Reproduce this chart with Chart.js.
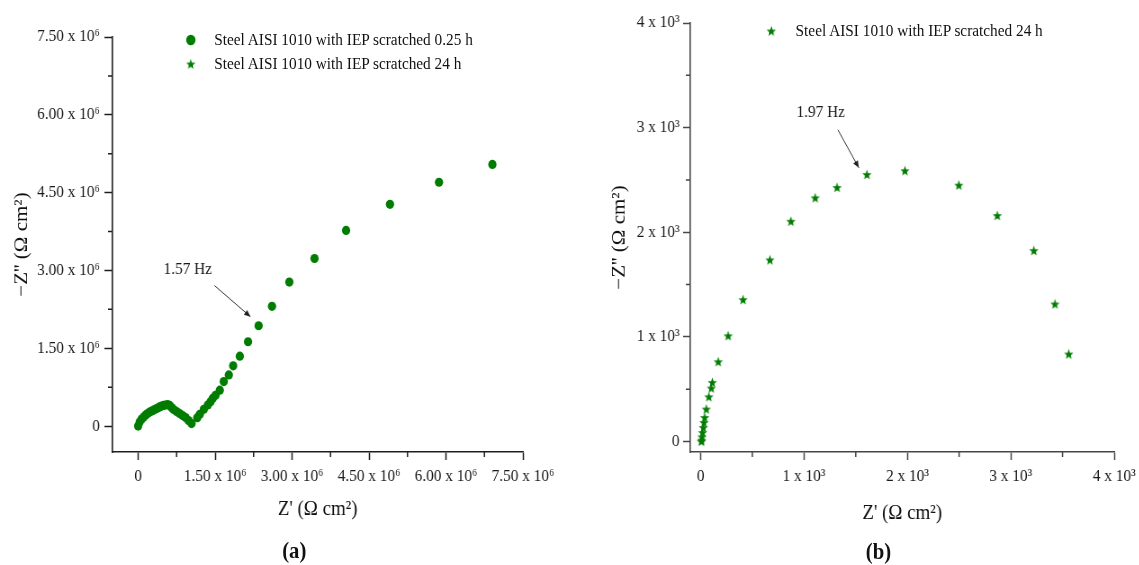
<!DOCTYPE html>
<html><head><meta charset="utf-8">
<script src="https://cdn.jsdelivr.net/npm/chart.js@4.4.1/dist/chart.umd.min.js"></script>
<style>
html,body{margin:0;padding:0;background:#fff;overflow:hidden;width:1139px;height:565px;}
#stage{position:absolute;left:0;top:0;width:1266px;height:565px;transform:scaleX(0.9);transform-origin:0 0;font-family:'Liberation Serif','Times New Roman',serif;color:#111;}
#stage canvas.chart{position:absolute;top:0;}
.leg{position:absolute;font-size:17px;line-height:20px;white-space:nowrap;transform:translateY(-50%);color:#111;}
.mk{position:absolute;transform:translate(-50%,-50%);}
.panel{position:absolute;font-weight:bold;font-size:23px;line-height:26px;transform:translate(-50%,-50%);color:#111;}
</style></head><body>
<div id="stage">
<canvas class="chart" id="cA" width="633" height="565" style="left:0"></canvas>
<canvas class="chart" id="cB" width="633" height="565" style="left:633px"></canvas>
</div>
<script>
// ---------- DATA ----------
const seriesA_label = 'Steel AISI 1010 with IEP scratched 0.25 h';
const seriesA_x = [0, 0.029e6, 0.068e6, 0.107e6, 0.146e6, 0.185e6, 0.224e6, 0.263e6, 0.302e6, 0.340e6,
  0.379e6, 0.418e6, 0.457e6, 0.496e6, 0.535e6, 0.574e6, 0.613e6, 0.652e6, 0.691e6, 0.749e6,
  0.807e6, 0.866e6, 0.924e6, 0.982e6, 1.041e6, 1.152e6, 1.202e6, 1.280e6, 1.358e6, 1.411e6,
  1.455e6, 1.508e6, 1.591e6, 1.669e6, 1.767e6, 1.852e6, 1.981e6, 2.142e6, 2.348e6, 2.609e6,
  2.947e6, 3.438e6, 4.053e6, 4.909e6, 5.864e6, 6.905e6];
const seriesA_y = [0, 0.077e6, 0.135e6, 0.174e6, 0.213e6, 0.242e6, 0.271e6, 0.290e6, 0.309e6, 0.329e6,
  0.348e6, 0.368e6, 0.387e6, 0.397e6, 0.406e6, 0.416e6, 0.397e6, 0.358e6, 0.319e6, 0.280e6,
  0.242e6, 0.203e6, 0.164e6, 0.106e6, 0.048e6, 0.161e6, 0.226e6, 0.323e6, 0.406e6, 0.470e6,
  0.536e6, 0.594e6, 0.691e6, 0.857e6, 0.986e6, 1.161e6, 1.348e6, 1.625e6, 1.934e6, 2.308e6,
  2.776e6, 3.230e6, 3.772e6, 4.275e6, 4.700e6, 5.043e6];

const seriesB_label = 'Steel AISI 1010 with IEP scratched 24 h';
const seriesB_x = [7, 10, 13, 19, 26, 32, 39, 55, 80, 103, 113, 170, 266, 410, 670, 873, 1108, 1319, 1608, 1976, 2497, 2869, 3223, 3427, 3560];
const seriesB_y = [2, 13, 45, 86, 134, 182, 230, 310, 428, 511, 565, 763, 1011, 1356, 1736, 2105, 2329, 2428, 2552, 2588, 2450, 2160, 1825, 1315, 836];

const ticksA = [0, 1.5e6, 3e6, 4.5e6, 6e6, 7.5e6];
const tickLabelsA = ['0', '1.50 x 10\u2076', '3.00 x 10\u2076', '4.50 x 10\u2076', '6.00 x 10\u2076', '7.50 x 10\u2076'];
const minorTicksA = [0.75e6, 2.25e6, 3.75e6, 5.25e6, 6.75e6];
const ticksB = [0, 1000, 2000, 3000, 4000];
const tickLabelsB = ['0', '1 x 10\u00b3', '2 x 10\u00b3', '3 x 10\u00b3', '4 x 10\u00b3'];
const minorTicksB = [500, 1500, 2500, 3500];

const xTitle = "Z' (\u03a9 cm\u00b2)";
const yTitle = "\u2212Z'' (\u03a9 cm\u00b2)";

const annotA = {text: '1.57 Hz', x: 0.496e6, y: 3.017e6, from: [1.488e6, 2.708e6], to: [2.189e6, 2.108e6]};
const annotB = {text: '1.97 Hz', x: 928, y: 3145, from: [1327, 2980], to: [1530, 2616]};

// ---------- STYLE ----------
const GREEN = '#007d00';
const FONT = "'Liberation Serif', 'Times New Roman', serif";

function makeStar(color, R, r) {
  const size = Math.ceil(R * 2) + 2;
  const c = document.createElement('canvas');
  c.width = size; c.height = size;
  const ctx = c.getContext('2d');
  ctx.fillStyle = color;
  ctx.beginPath();
  for (let i = 0; i < 10; i++) {
    const rad = i % 2 === 0 ? R : r;
    const a = -Math.PI / 2 + i * Math.PI / 5;
    const px = size / 2 + rad * Math.cos(a), py = size / 2 + rad * Math.sin(a) + 0.5;
    if (i) ctx.lineTo(px, py); else ctx.moveTo(px, py);
  }
  ctx.closePath(); ctx.fill();
  return c;
}
const starImg = makeStar(GREEN, 5.4, 2.3);

const extras = {
  id: 'extras',
  afterDraw(chart, args, opts) {
    const ctx = chart.ctx, xs = chart.scales.x, ys = chart.scales.y;
    ctx.save();
    ctx.strokeStyle = opts.axisColor; ctx.lineWidth = 1.5;
    ctx.beginPath();
    opts.minor.forEach(v => {
      if (v >= xs.min && v <= xs.max) { const px = xs.getPixelForValue(v); ctx.moveTo(px, xs.top); ctx.lineTo(px, xs.top + 5); }
      if (v >= ys.min && v <= ys.max) { const py = ys.getPixelForValue(v); ctx.moveTo(ys.right, py); ctx.lineTo(ys.right - 5, py); }
    });
    ctx.stroke();
    const a = opts.annot;
    ctx.fillStyle = '#1a1a1a';
    ctx.font = '17px ' + FONT;
    ctx.textBaseline = 'middle'; ctx.textAlign = 'left';
    ctx.fillText(a.text, xs.getPixelForValue(a.x), ys.getPixelForValue(a.y));
    const x1 = xs.getPixelForValue(a.from[0]), y1 = ys.getPixelForValue(a.from[1]);
    const x2 = xs.getPixelForValue(a.to[0]), y2 = ys.getPixelForValue(a.to[1]);
    ctx.strokeStyle = '#333'; ctx.lineWidth = 1;
    ctx.beginPath(); ctx.moveTo(x1, y1); ctx.lineTo(x2, y2); ctx.stroke();
    const ang = Math.atan2(y2 - y1, x2 - x1), L = 7, W = 3;
    ctx.fillStyle = '#222';
    ctx.beginPath();
    ctx.moveTo(x2, y2);
    ctx.lineTo(x2 - L * Math.cos(ang) + W * Math.sin(ang), y2 - L * Math.sin(ang) - W * Math.cos(ang));
    ctx.lineTo(x2 - L * Math.cos(ang) - W * Math.sin(ang), y2 - L * Math.sin(ang) + W * Math.cos(ang));
    ctx.closePath(); ctx.fill();
    ctx.restore();
  }
};

function makeChart(canvas, cfg) {
  const axisCommon = (ticks, labels) => ({
    type: 'linear',
    afterBuildTicks: s => { s.ticks = ticks.map(v => ({value: v})); },
    border: {display: true, color: cfg.axisColor, width: 1.6},
    grid: {display: true, drawOnChartArea: false, drawTicks: true, tickLength: 8, tickColor: cfg.axisColor, tickWidth: 1.5},
    ticks: {autoSkip: false, maxRotation: 0, minRotation: 0, color: '#1a1a1a', font: {family: FONT, size: 17},
      callback: (v) => { const i = ticks.indexOf(v); return i >= 0 ? labels[i] : ''; }}
  });
  const xAxis = axisCommon(cfg.ticks, cfg.labels);
  Object.assign(xAxis, {
    min: cfg.xmin, max: cfg.xmax,
    afterFit: s => { s.height = 113; s.paddingLeft = 0; s.paddingRight = 0; },
    title: {display: true, text: xTitle, color: '#111', font: {family: FONT, size: 21}, padding: {top: 0, bottom: cfg.xTitlePad}}
  });
  xAxis.ticks.padding = 6;
  const yAxis = axisCommon(cfg.ticks, cfg.labels);
  Object.assign(yAxis, {
    min: cfg.ymin, max: cfg.ymax,
    afterFit: s => { s.width = cfg.yWidth; s.paddingTop = 0; s.paddingBottom = 0; },
    title: {display: true, text: yTitle, color: '#111', font: {family: FONT, size: 21}, padding: {top: cfg.yTitlePad, bottom: 0}}
  });
  yAxis.ticks.padding = cfg.yTickPad;
  yAxis.grid.tickLength = cfg.yTickLen;
  return new Chart(canvas, {
    type: 'scatter',
    data: {datasets: cfg.datasets},
    options: {
      responsive: false, animation: false, events: [],
      layout: {padding: cfg.padding},
      plugins: {legend: {display: false}, tooltip: {enabled: false},
        extras: {axisColor: cfg.axisColor, minor: cfg.minor, annot: cfg.annot}},
      scales: {x: xAxis, y: yAxis}
    },
    plugins: [extras]
  });
}

makeChart(document.getElementById('cA'), {
  datasets: [{label: seriesA_label, data: seriesA_x.map((x, i) => ({x, y: seriesA_y[i]})),
    pointStyle: 'circle', pointRadius: 4.6, backgroundColor: GREEN, borderColor: GREEN, borderWidth: 0, showLine: false}],
  ticks: ticksA, labels: tickLabelsA, minor: minorTicksA, annot: annotA,
  xmin: -0.5e6, xmax: 7.5e6, ymin: -0.5e6, ymax: 7.5e6,
  padding: {top: 37, right: 52, left: 0, bottom: 0},
  yWidth: 125, yTickLen: 9, yTickPad: 5, yTitlePad: 12, xTitlePad: 43,
  axisColor: '#1e1e1e'
});

makeChart(document.getElementById('cB'), {
  datasets: [{label: seriesB_label, data: seriesB_x.map((x, i) => ({x, y: seriesB_y[i]})),
    pointStyle: starImg, pointRadius: 5, backgroundColor: GREEN, borderColor: GREEN, showLine: false}],
  ticks: ticksB, labels: tickLabelsB, minor: minorTicksB, annot: annotB,
  xmin: -100, xmax: 4000, ymin: -100, ymax: 4000,
  padding: {top: 23, right: 28, left: 0, bottom: 0},
  yWidth: 134, yTickLen: 8, yTickPad: 4, yTitlePad: 43, xTitlePad: 39,
  axisColor: '#464646'
});

// ---------- LEGENDS (HTML) ----------
const stage = document.getElementById('stage');
function circleMarker() {
  const c = document.createElement('canvas'); c.width = 14; c.height = 14;
  const ctx = c.getContext('2d'); ctx.fillStyle = GREEN;
  ctx.beginPath(); ctx.arc(7, 7, 5.2, 0, Math.PI * 2); ctx.fill();
  return c;
}
function starMarker() {
  const c = document.createElement('canvas'); c.width = starImg.width; c.height = starImg.height;
  c.getContext('2d').drawImage(starImg, 0, 0);
  return c;
}
function addLegend(marker, text, mx, tx, y) {
  marker.className = 'mk'; marker.style.left = mx + 'px'; marker.style.top = y + 'px';
  stage.appendChild(marker);
  const d = document.createElement('div'); d.className = 'leg'; d.textContent = text;
  d.style.left = tx + 'px'; d.style.top = y + 'px';
  stage.appendChild(d);
}
addLegend(circleMarker(), seriesA_label, 212, 238, 40);
addLegend(starMarker(), seriesB_label, 212, 238, 64);
addLegend(starMarker(), seriesB_label, 857, 884, 31);

function addPanel(t, x, y) {
  const d = document.createElement('div'); d.className = 'panel'; d.textContent = t;
  d.style.left = x + 'px'; d.style.top = y + 'px'; stage.appendChild(d);
}
addPanel('(a)', 327, 551);
addPanel('(b)', 976, 552);
</script>
</body></html>
